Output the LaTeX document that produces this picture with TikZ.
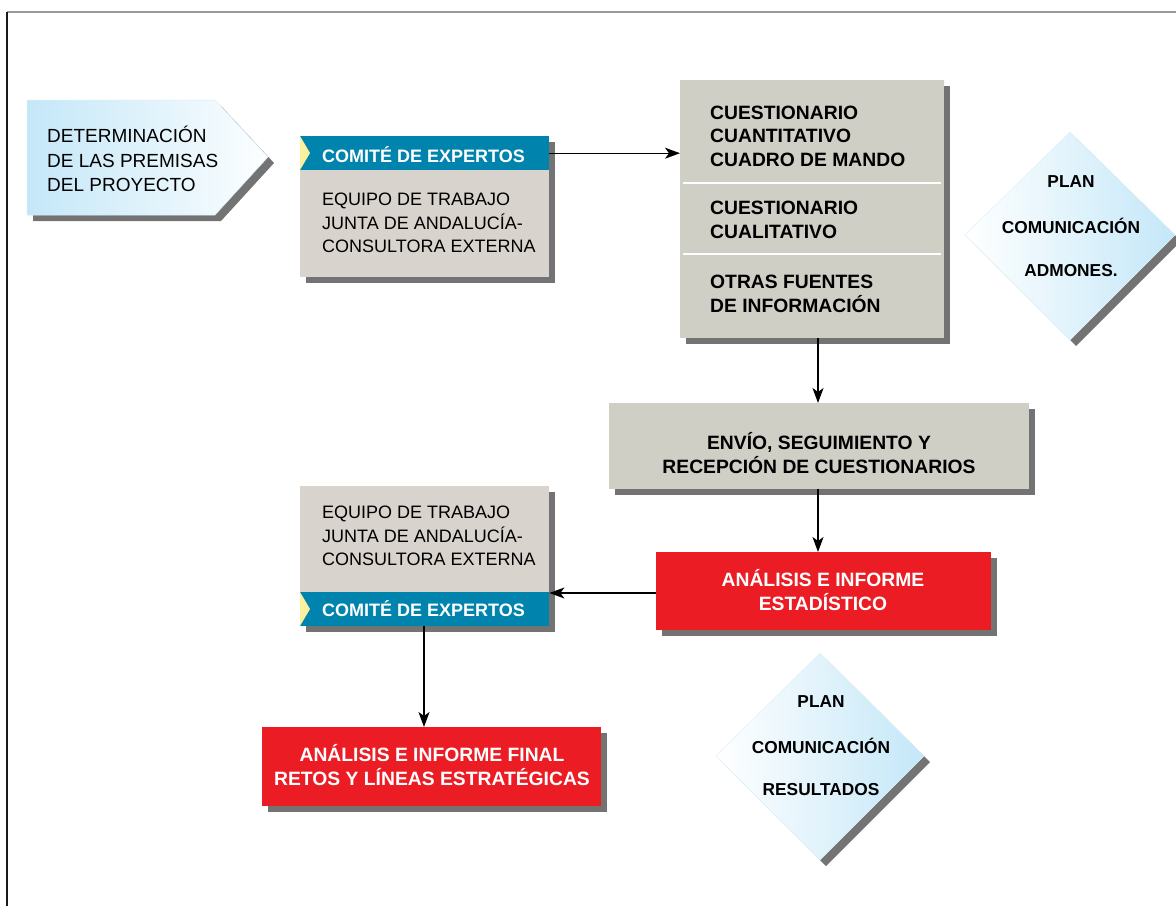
\documentclass[tikz,border=0pt]{standalone}
\usepackage{fontspec}
\setmainfont{Liberation Sans}
\usetikzlibrary{arrows.meta,shadows}
\definecolor{boxgray}{HTML}{D0CFC6}
\definecolor{warmgray}{HTML}{D8D3CC}
\definecolor{hdrblue}{HTML}{0083AD}
\definecolor{notchyellow}{HTML}{FBF0A0}
\definecolor{redbox}{HTML}{EC1C24}
\definecolor{lightblue}{HTML}{C4E7F8}
\definecolor{shadowgray}{HTML}{5A5A5A}
\tikzset{
  shd/.style={drop shadow={shadow xshift=6pt,shadow yshift=-6pt,fill=shadowgray,opacity=0.85}},
  panel/.style={shd,draw=none,inner sep=0pt,anchor=north west},
  graybox/.style={panel,fill=boxgray},
  warmbox/.style={panel,fill=warmgray},
  redpanel/.style={panel,fill=redbox},
  hdr/.style={draw=none,fill=hdrblue,inner sep=0pt,anchor=north west},
  conn/.style={line width=1.3pt,-{Stealth[length=15pt,width=11pt,inset=4pt]}},
  reg/.style={inner sep=0pt,align=left,anchor=west,font=\fontsize{18}{23.5}\selectfont},
  bldl/.style={inner sep=0pt,align=left,anchor=west,font=\fontsize{19.3}{23.5}\selectfont\bfseries},
  bldc/.style={inner sep=0pt,align=center,font=\fontsize{19.3}{23.5}\selectfont\bfseries},
  hdrtxt/.style={inner sep=0pt,anchor=west,text=white,font=\fontsize{18}{22}\selectfont\bfseries},
  dtxt/.style={inner sep=0pt,font=\fontsize{17.3}{20}\selectfont\bfseries},
}
\begin{document}
\begin{tikzpicture}[x=1pt,y=-1pt]
\useasboundingbox (0,0) rectangle (1176,906);
% frame
\draw[line width=2pt,gray!80] (7,12) -- (1176,12);
\draw[line width=1.5pt,black!90] (7,12) -- (7,906);

% pentagon
\path[shd,left color=lightblue,right color=white!96!lightblue,draw=lightblue!70,line width=0.5pt]
  (27,100) -- (215,100) -- (268,157) -- (215,215) -- (27,215) -- cycle;
\coordinate (penta) at (27,157);
\node[reg,font=\fontsize{19}{24.5}\selectfont] (pentatxt) at (47,159) {DETERMINACIÓN\\DE LAS PREMISAS\\DEL PROYECTO};

% comite box 1
\node[warmbox,minimum width=249pt,minimum height=141pt] (com1) at (300,136) {};
\node[hdr,minimum width=249pt,minimum height=34pt] (com1h) at (300,136) {};
\fill[notchyellow] (300,136) -- (310,153) -- (300,170) -- cycle;
\node[hdrtxt] (com1ht) at (322,155) {COMITÉ DE EXPERTOS};
\node[reg] (com1b) at (322,223) {EQUIPO DE TRABAJO\\JUNTA DE ANDALUCÍA-\\CONSULTORA EXTERNA};

% big questionnaire box
\node[graybox,minimum width=264pt,minimum height=258pt] (cuest) at (680,80) {};
\draw[white,line width=1.2pt] (683,183) -- (941,183);
\draw[white,line width=1.2pt] (683,254) -- (941,254);
\node[bldl] (q1) at (710,136) {CUESTIONARIO\\CUANTITATIVO\\CUADRO DE MANDO};
\node[bldl] (q2) at (710,220) {CUESTIONARIO\\CUALITATIVO};
\node[bldl] (q3) at (710,294) {OTRAS FUENTES\\DE INFORMACIÓN};

% diamond 1
\path[shd,left color=white,right color=lightblue,draw=lightblue!60,line width=0.5pt]
  (1070,132) -- (1175,235) -- (1070,340) -- (965,235) -- cycle;
\coordinate (dia1) at (1070,235);
\node[dtxt] (d1a) at (1071,182) {PLAN};
\node[dtxt] (d1b) at (1071,226) {COMUNICACIÓN};
\node[dtxt] (d1c) at (1071,271) {ADMONES.};

% envio box
\node[graybox,minimum width=420pt,minimum height=86pt] (envio) at (609,403) {};
\node[bldc] (enviot) at (819,453) {ENVÍO, SEGUIMIENTO Y\\RECEPCIÓN DE CUESTIONARIOS};

% red box 1
\node[redpanel,minimum width=335pt,minimum height=78pt] (red1) at (656,552) {};
\node[bldc,text=white] (red1t) at (823,590) {ANÁLISIS E INFORME\\ESTADÍSTICO};

% comite box 2
\node[warmbox,minimum width=249pt,minimum height=140pt] (com2) at (300,486) {};
\node[hdr,minimum width=249pt,minimum height=34pt] (com2h) at (300,592) {};
\fill[notchyellow] (300,592) -- (310,609) -- (300,626) -- cycle;
\node[hdrtxt] (com2ht) at (322,609) {COMITÉ DE EXPERTOS};
\node[reg] (com2b) at (322,536) {EQUIPO DE TRABAJO\\JUNTA DE ANDALUCÍA-\\CONSULTORA EXTERNA};

% red box 2
\node[redpanel,minimum width=339pt,minimum height=79pt] (red2) at (262,727) {};
\node[bldc,text=white] (red2t) at (432,765) {ANÁLISIS E INFORME FINAL\\RETOS Y LÍNEAS ESTRATÉGICAS};

% diamond 2
\path[shd,left color=white,right color=lightblue,draw=lightblue!60,line width=0.5pt]
  (820,653) -- (924,756) -- (820,860) -- (716,756) -- cycle;
\coordinate (dia2) at (820,756);
\node[dtxt] (d2a) at (821,702) {PLAN};
\node[dtxt] (d2b) at (821,746) {COMUNICACIÓN};
\node[dtxt] (d2c) at (821,790) {RESULTADOS};

% connectors
\draw[conn] (com1.east |- com1h.east) -- (cuest.west |- com1h.east);
\draw[conn] (cuest.south -| 818,0) -- (envio.north -| 818,0);
\draw[conn] (envio.south -| 818,0) -- (red1.north -| 818,0);
\draw[conn] (red1.west |- 0,593) -- (com2.east |- 0,593);
\draw[conn] (com2h.south -| 424,0) -- (red2.north -| 424,0);
\end{tikzpicture}
\end{document}
